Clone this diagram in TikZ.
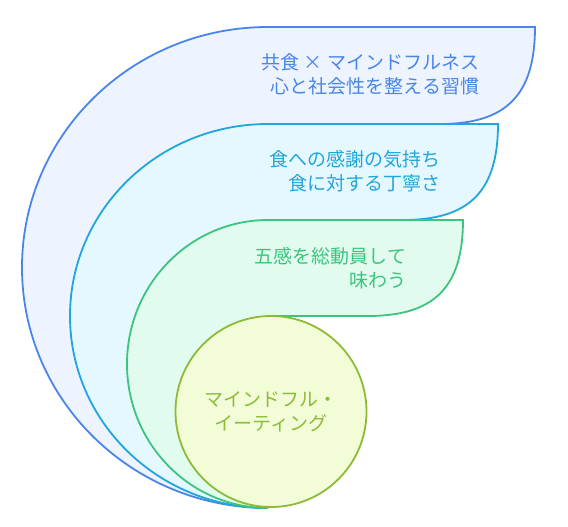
\documentclass[tikz,border=0pt]{standalone}
\usepackage{fontspec}
\setmainfont{Noto Sans CJK JP}
\usepackage{tikz}
\usetikzlibrary{positioning}
\definecolor{socialc}{HTML}{4A86E8}
\definecolor{socialf}{HTML}{EDF3FF}
\definecolor{gratc}{HTML}{20A6DA}
\definecolor{gratf}{HTML}{E6F8FF}
\definecolor{sensec}{HTML}{3CC47E}
\definecolor{sensef}{HTML}{E1FCEF}
\definecolor{corec}{HTML}{8DBB38}
\definecolor{coref}{HTML}{F2FDD8}

\begin{document}
\begin{tikzpicture}[x=1pt,y=-1pt,line width=1.8pt,
    lbl/.style={inner sep=0pt,font=\fontsize{19}{24}\selectfont,align=right,anchor=east}]
  \useasboundingbox (0,0) rectangle (568,527);
  % outer layer (shared meals), widest band at the top
  \fill[socialf] (268,124) -- (440,124) .. controls (506.5,124) and (535,94.9) .. (535,27)
    -- (268,27) arc[start angle=90,end angle=270,x radius=246pt,y radius=240.5pt] -- cycle;
  \draw[socialc] (268,124) -- (440,124) .. controls (506.5,124) and (535,94.9) .. (535,27)
    -- (268,27) arc[start angle=90,end angle=270,x radius=246pt,y radius=240.5pt];
  \node[lbl,socialc] (social) at (480,74) {共食 × マインドフルネス\\心と社会性を整える習慣};
  % second layer (gratitude)
  \fill[gratf] (268,220) -- (403,220) .. controls (469.5,220) and (498,191.2) .. (498,124)
    -- (268,124) arc[start angle=90,end angle=270,x radius=198pt,y radius=192pt] -- cycle;
  \draw[gratc] (268,220) -- (403,220) .. controls (469.5,220) and (498,191.2) .. (498,124)
    -- (268,124) arc[start angle=90,end angle=270,x radius=198pt,y radius=192pt];
  \node[lbl,gratc] (grat) at (441,171.5) {食への感謝の気持ち\\食に対する丁寧さ};
  % third layer (five senses)
  \fill[sensef] (268,316) -- (368,316) .. controls (434.5,316) and (463,287.2) .. (463,220)
    -- (268,220) arc[start angle=90,end angle=270,x radius=141pt,y radius=144pt] -- cycle;
  \draw[sensec] (268,316) -- (368,316) .. controls (434.5,316) and (463,287.2) .. (463,220)
    -- (268,220) arc[start angle=90,end angle=270,x radius=141pt,y radius=144pt];
  \node[lbl,sensec] (sense) at (407,268.5) {五感を総動員して\\味わう};
  % core circle
  \node[circle,draw=corec,fill=coref,minimum size=191pt,inner sep=0pt,
        font=\fontsize{19}{24}\selectfont,align=center,text=corec] (core) at (271,411.5)
        {マインドフル・\\イーティング};
\end{tikzpicture}
\end{document}
